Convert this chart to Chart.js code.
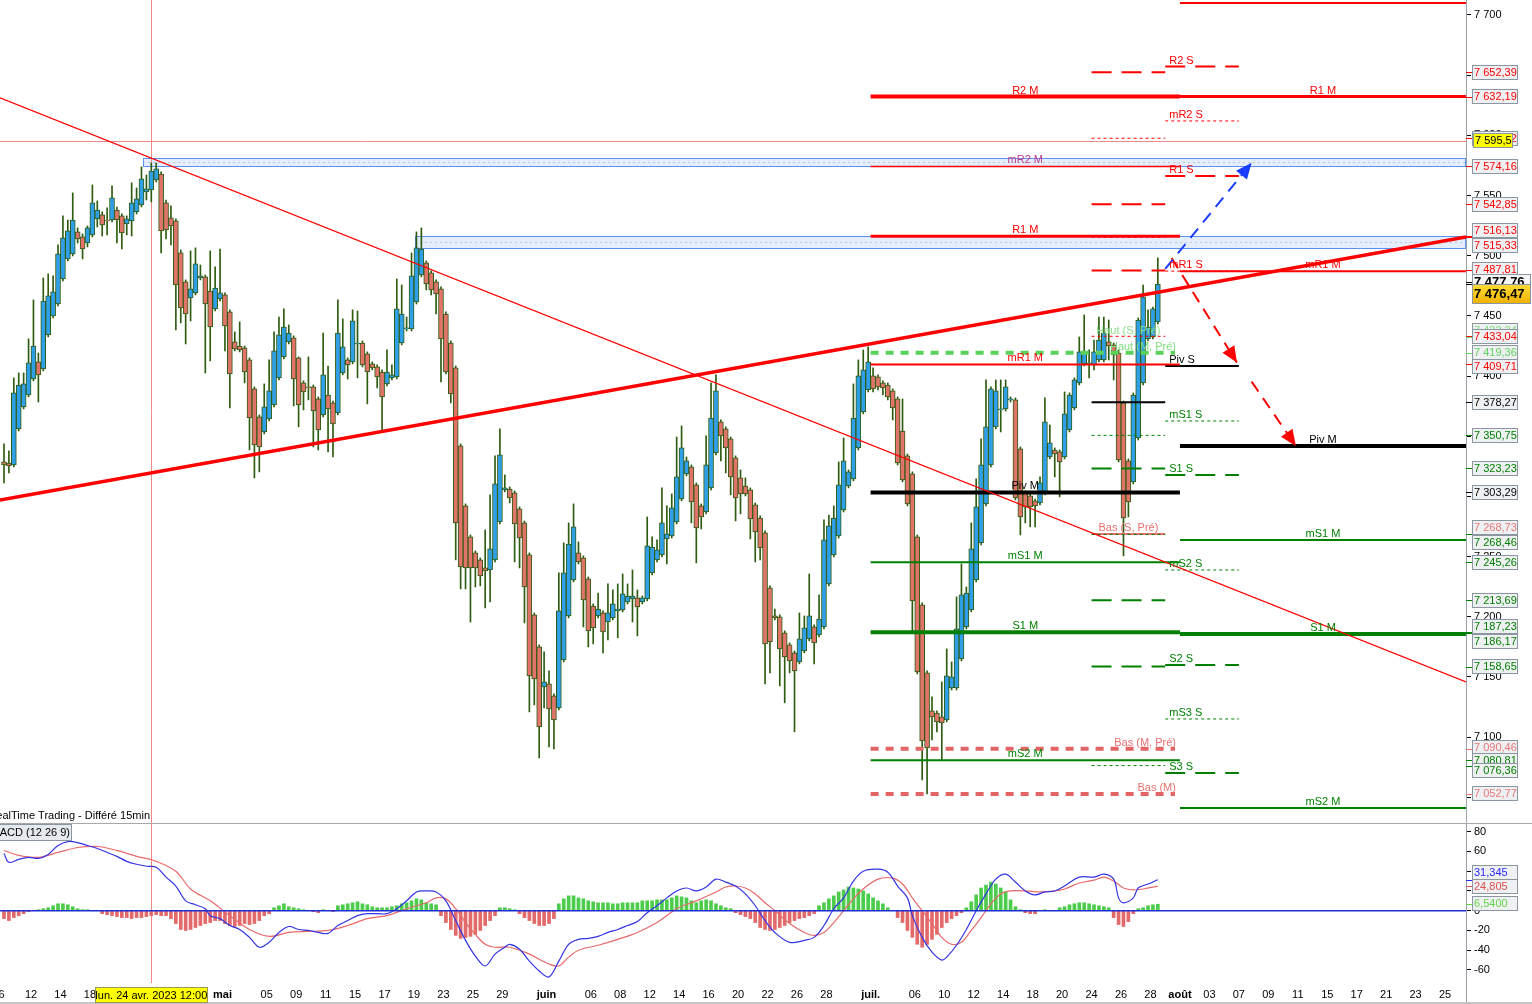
<!DOCTYPE html>
<html><head><meta charset="utf-8">
<script src="https://cdn.jsdelivr.net/npm/chart.js@4.4.0/dist/chart.umd.min.js"></script>
<style>
html,body{margin:0;padding:0;background:#fff;overflow:hidden}
#wrap{position:relative;width:1532px;height:1004px;background:#fff}
#cA{position:absolute;left:0;top:0;width:1532px;height:823px}
#cB{position:absolute;left:0;top:823px;width:1532px;height:181px}
</style></head><body>
<div id="wrap"><canvas id="cA" width="1532" height="823"></canvas><canvas id="cB" width="1532" height="181"></canvas></div>
<script>
// ---------------- DATA ----------------
const candleOpen = [7328.7,7327.8,7326.2,7356.1,7374.4,7384.3,7397.6,7411.8,7405.9,7434.2,
7450.0,7459.9,7480.7,7497.3,7501.5,7519.8,7515.6,7510.6,7517.3,7530.6,
7533.9,7529.7,7529.7,7538.0,7533.1,7526.4,7528.9,7536.4,7542.2,7553.0,
7554.6,7563.0,7567.9,7543.9,7531.4,7528.9,7502.3,7478.2,7464.9,7469.1,
7481.5,7482.4,7470.7,7455.8,7464.1,7467.4,7453.3,7428.4,7425.0,7423.4,
7413.4,7389.3,7366.1,7353.6,7364.4,7376.0,7398.5,7415.9,7428.4,7431.7,
7415.1,7394.3,7391.0,7391.0,7381.0,7367.7,7384.3,7377.7,7369.4,7402.6,
7413.4,7411.8,7426.7,7427.5,7418.4,7410.1,7407.6,7403.4,7393.5,7398.5,
7399.3,7427.5,7439.2,7439.2,7461.6,7484.0,7494.0,7485.7,7478.2,7472.4,
7451.6,7427.5,7406.8,7342.0,7292.1,7266.4,7253.1,7247.3,7240.6,7238.9,
7247.3,7278.8,7305.4,7306.2,7302.9,7289.6,7278.0,7251.4,7201.6,7175.0,
7141.7,7144.2,7134.3,7124.3,7164.2,7200.7,7230.6,7253.1,7248.9,7231.5,
7209.0,7200.7,7203.2,7195.7,7199.1,7204.9,7205.7,7212.4,7214.9,7215.7,
7212.4,7214.9,7236.5,7247.3,7251.4,7264.7,7267.2,7278.8,7297.9,7318.7,
7324.5,7309.6,7292.1,7287.1,7307.1,7336.2,7361.9,7356.1,7347.8,7332.0,
7315.4,7308.7,7305.4,7293.0,7282.1,7269.7,7224.0,7200.7,7199.9,7186.6,
7176.6,7170.0,7162.5,7171.6,7181.6,7191.6,7184.9,7191.6,7227.3,7251.4,
7267.2,7288.8,7308.7,7314.6,7340.3,7370.2,7388.5,7400.1,7399.3,7394.3,
7392.6,7387.7,7381.0,7354.4,7333.7,7318.7,7266.4,7209.9,7153.4,7121.8,
7120.1,7116.8,7114.3,7140.9,7140.9,7165.0,7191.6,7205.7,7230.6,7261.4,
7293.8,7326.2,7357.8,7371.9,7372.7,7380.2,7380.2,7339.5,7302.9,7300.4,
7296.3,7294.6,7302.9,7332.8,7338.6,7337.0,7332.8,7355.3,7373.5,7394.3,
7410.1,7410.1,7409.3,7413.4,7413.4,7428.4,7425.9,7419.2,7377.7,7329.5,
7312.1,7348.6,7394.3,7430.9,7432.5,7445.0];
const candleHigh = [7343.6,7337.8,7398.5,7402.6,7402.6,7430.9,7463.3,7419.2,7481.5,7484.9,
7483.2,7509.0,7533.1,7529.7,7552.2,7523.1,7518.1,7524.7,7558.8,7545.5,
7536.4,7539.7,7558.0,7540.5,7534.7,7533.1,7560.5,7556.3,7573.8,7567.1,
7577.1,7577.1,7569.6,7546.3,7541.4,7530.6,7504.8,7479.9,7504.0,7506.5,
7492.3,7484.0,7504.0,7490.7,7505.6,7469.1,7455.0,7436.7,7445.0,7425.0,
7415.1,7391.0,7367.7,7393.5,7413.4,7436.7,7449.1,7455.8,7442.5,7433.4,
7415.9,7396.0,7415.9,7392.6,7382.7,7435.8,7408.4,7379.3,7463.3,7447.5,
7415.1,7455.0,7454.1,7429.2,7420.1,7411.8,7409.3,7405.1,7421.7,7409.3,
7480.7,7475.7,7449.1,7502.3,7519.8,7523.1,7495.7,7487.4,7479.9,7474.1,
7453.3,7429.2,7408.4,7343.6,7293.8,7268.0,7254.7,7248.9,7272.2,7301.3,
7333.7,7356.1,7317.9,7307.9,7304.6,7291.3,7279.6,7253.1,7203.2,7176.6,
7170.8,7155.0,7135.9,7236.5,7261.4,7278.0,7293.8,7262.2,7250.6,7233.1,
7210.7,7219.8,7204.9,7227.3,7222.3,7227.3,7235.6,7227.3,7238.9,7222.3,
7217.3,7283.0,7266.4,7263.9,7307.1,7292.1,7302.1,7349.4,7358.6,7332.8,
7326.2,7311.2,7293.8,7350.3,7394.3,7401.0,7363.6,7357.8,7349.4,7333.7,
7322.0,7315.4,7307.1,7294.6,7283.8,7271.4,7225.7,7206.5,7201.6,7188.3,
7178.3,7171.6,7203.2,7200.7,7235.6,7193.3,7218.2,7280.5,7284.6,7292.1,
7328.7,7348.6,7322.0,7393.5,7413.4,7421.7,7424.2,7406.8,7401.0,7396.0,
7394.3,7389.3,7382.7,7381.0,7335.3,7320.4,7268.0,7211.5,7155.0,7133.4,
7121.8,7145.9,7173.3,7162.5,7216.5,7243.9,7224.8,7278.0,7314.6,7347.8,
7396.8,7391.0,7396.8,7396.8,7396.8,7382.7,7381.9,7341.1,7304.6,7302.1,
7297.9,7316.2,7381.9,7359.4,7340.3,7338.6,7386.8,7386.0,7398.5,7432.5,
7450.8,7421.7,7430.0,7449.1,7449.1,7446.6,7427.5,7421.7,7379.3,7331.2,
7386.0,7448.3,7475.7,7455.0,7457.4,7498.2];
const candleLow = [7311.2,7319.5,7324.5,7354.4,7372.7,7382.7,7396.0,7378.5,7404.3,7432.5,
7448.3,7458.3,7479.1,7495.7,7499.8,7510.6,7497.3,7507.3,7515.6,7523.9,
7516.4,7517.3,7528.1,7510.6,7505.6,7517.3,7516.4,7534.7,7540.5,7546.3,
7544.7,7561.3,7502.3,7513.9,7509.0,7438.3,7444.2,7426.7,7445.8,7467.4,
7479.9,7402.6,7412.6,7454.1,7462.4,7420.9,7373.5,7420.9,7420.1,7394.3,
7338.6,7315.4,7320.4,7351.9,7362.7,7374.4,7396.8,7414.2,7426.7,7375.2,
7357.8,7371.9,7380.2,7341.1,7338.6,7366.1,7337.0,7332.8,7367.7,7401.0,
7397.6,7410.1,7398.5,7407.6,7376.9,7405.1,7390.2,7354.4,7391.8,7396.8,
7397.6,7425.9,7437.5,7437.5,7459.9,7482.4,7471.6,7467.4,7451.6,7395.1,
7401.8,7377.7,7247.3,7223.2,7223.2,7195.7,7224.8,7225.7,7207.4,7212.4,
7245.6,7277.2,7303.8,7294.6,7245.6,7240.6,7194.9,7121.0,7126.8,7082.8,
7124.3,7091.9,7090.2,7122.6,7162.5,7199.1,7229.0,7243.9,7191.6,7175.0,
7177.5,7199.1,7170.0,7180.8,7197.4,7182.5,7204.1,7210.7,7195.7,7184.1,
7210.7,7213.2,7234.8,7245.6,7249.7,7243.9,7265.5,7277.2,7296.3,7317.0,
7278.0,7244.8,7273.0,7285.5,7305.4,7334.5,7329.5,7319.5,7301.3,7279.6,
7285.5,7300.4,7264.7,7245.6,7247.3,7144.2,7153.4,7197.4,7142.6,7128.5,
7153.4,7104.4,7160.9,7170.0,7180.0,7160.9,7183.3,7189.9,7225.7,7249.7,
7265.5,7287.1,7307.1,7312.9,7338.6,7368.6,7386.8,7386.8,7388.5,7384.3,
7380.2,7363.6,7326.2,7312.1,7292.1,7186.6,7152.5,7064.5,7052.8,7097.7,
7104.4,7081.1,7112.7,7139.2,7139.2,7163.3,7189.9,7204.1,7229.0,7259.7,
7292.1,7324.5,7356.1,7353.6,7371.0,7378.5,7297.1,7268.0,7278.0,7274.7,
7274.7,7292.9,7301.3,7331.2,7316.2,7299.6,7331.2,7353.6,7371.9,7392.6,
7408.4,7398.5,7405.1,7411.8,7411.8,7413.4,7396.8,7328.7,7250.6,7283.0,
7310.4,7346.9,7392.6,7429.2,7430.9,7443.3];
const candleClose = [7326.2,7325.4,7386.0,7392.6,7393.5,7410.9,7425.0,7401.0,7462.4,7466.6,
7469.9,7501.5,7514.8,7520.6,7529.7,7513.9,7505.6,7523.1,7543.9,7538.0,
7525.6,7528.9,7548.0,7529.7,7518.9,7530.6,7543.9,7547.2,7563.8,7555.5,
7570.4,7572.1,7520.6,7521.4,7524.7,7475.7,7456.6,7451.6,7472.4,7493.2,
7483.2,7459.9,7440.8,7473.2,7469.1,7441.7,7401.8,7422.6,7421.7,7403.4,
7365.2,7342.8,7341.1,7374.4,7387.7,7420.9,7434.2,7440.8,7435.8,7397.6,
7376.0,7386.8,7390.2,7371.0,7355.3,7401.0,7372.7,7360.2,7435.8,7424.2,
7409.3,7445.8,7427.5,7409.3,7403.4,7406.8,7399.3,7382.7,7403.4,7401.0,
7455.8,7451.6,7440.0,7483.2,7506.5,7505.6,7476.5,7471.6,7468.2,7430.9,
7403.4,7385.2,7278.0,7241.4,7240.6,7240.6,7240.6,7234.0,7238.1,7256.4,
7310.4,7334.5,7307.1,7298.8,7277.2,7265.5,7224.8,7150.9,7148.4,7108.5,
7145.9,7123.5,7114.3,7204.9,7236.5,7260.5,7274.7,7245.6,7214.0,7188.3,
7190.8,7206.5,7187.4,7203.2,7210.7,7206.5,7219.0,7217.3,7217.3,7208.2,
7215.7,7258.9,7258.0,7255.6,7278.0,7268.9,7290.5,7316.2,7340.3,7329.5,
7295.4,7273.8,7283.0,7326.2,7365.2,7387.7,7350.3,7340.3,7316.2,7298.8,
7302.1,7302.1,7281.3,7270.5,7257.2,7177.5,7179.1,7199.1,7173.3,7166.7,
7163.3,7155.0,7181.6,7190.8,7200.7,7178.3,7198.2,7263.9,7275.5,7282.1,
7309.6,7329.5,7320.4,7365.2,7400.1,7405.1,7411.8,7389.3,7391.0,7390.2,
7382.7,7373.5,7327.8,7313.7,7293.8,7213.2,7154.2,7096.9,7091.1,7116.8,
7112.7,7111.8,7150.9,7150.1,7189.9,7218.2,7219.8,7256.4,7291.3,7326.2,
7357.8,7389.3,7387.7,7372.7,7391.0,7381.0,7298.8,7283.0,7291.3,7291.3,
7292.1,7311.2,7361.9,7344.5,7335.3,7328.7,7368.6,7384.3,7396.8,7420.1,
7420.1,7410.9,7420.1,7430.0,7435.8,7425.0,7417.6,7330.3,7282.1,7295.4,
7384.3,7446.6,7465.8,7440.8,7455.8,7476.47];

// MACD (12 26 9)
const macdIdx = [0,1,3,5,7,9,11,13,15,17,19,21,23,25,27,29,31,33,35,37,39,41,42,44,46,48,50,52,54,56,58,60,62,64,66,68,70,72,74,76,78,80,82,84,86,88,90,92,94,96,98,100,102,103,105,107,109,111,113,115,117,119,121,123,125,127,129,131,133,135,137,139,141,143,145,147,149,151,153,155,157,160,163,165,167,169,171,173,175,178,180,182,184,185,187,189,191,192,194,196,198,200,202,204,206,208,210,212,214,216,219,222,224,226,227,228,230,231,233,235];
const macdVal = [58,49,52,54,53,57,66,70,69,66,63,59,55,50,47,45,44,34,25,10,6,2,-5,-8,-15,-19,-27,-37,-32,-22,-16,-19,-20,-22,-23,-15,-10,-5,-3,-3,-3,2,10,19,20,19,10,-10,-30,-46,-56,-44,-37,-34,-39,-51,-61,-67,-51,-34,-29,-28,-26,-22,-19,-15,-11,-2,5,13,20,23,20,24,32,29,25,17,5,-10,-22,-32,-30,-27,-15,2,13,30,40,42,39,25,13,-5,-27,-42,-50,-47,-35,-19,0,17,32,37,29,20,16,19,20,25,34,34,37,32,13,8,13,23,27,31.345];
const sigIdx = [0,3,7,11,15,19,23,27,31,35,38,42,46,50,54,58,62,66,70,74,78,82,86,88,90,92,94,96,98,100,103,107,111,113,115,117,121,125,129,133,137,141,145,147,149,151,153,155,157,160,163,165,167,169,171,173,175,178,181,183,185,187,189,191,193,195,197,199,201,203,205,208,211,214,216,219,222,224,226,228,230,232,235];
const sigVal = [61,56,54,59,64,65,61,55,50,40,22,10,-5,-19,-26,-22,-21,-20,-15,-8,-5,2,8,13,12,2,-12,-24,-34,-37,-37,-44,-54,-56,-47,-40,-35,-29,-22,-12,2,10,19,24,25,23,17,8,0,-13,-22,-25,-22,-12,0,12,22,32,33,27,13,0,-13,-27,-34,-32,-20,-7,7,17,20,20,19,20,22,28,31,34,30,23,21,22,24.805];
const histVal = [-8,-10,-7,-5,-3, -1,0,1, 2,3,5,7,7,6,4,2, 1,1,0,0,
-3,-4,-5,-6,-7,-7,-8,-7,-7,-6,-5, -4,-5,
-5,-8,-13,-19,-20,-19,-17,-15,-13,-12,
-10,-10,-13,-15,-16,-15,-13,-14,-13,-10,-5,-3,
3,5,7,4,3,2,1,0, -1,-2,1,0,-1,
5,6,7,8,9,7,6,4,3,3,3,4,5,
7,8,10,12,11,8,7,6,
-5,-12,-19,-25,-28,-27,-26,-24,-20,-15,-10,-5,
3,3,2,1,
-3,-7,-10,-13,-15,-15,-13,-8,
7,12,15,15,13,12,10,9,8,8,8,7,7,8,8,8,8,10,10,10,11,11,11,13,15,14,13,10,8,10,11,10,7,5,3,
2, -2,-4,-6,-8,
-12,-17,-19,-20,-19,-17,-15,-12,-10,-8,-7,-5,-3,
5,8,12,15,19,21,24,23,22,20,17,13,10,7,3,
0,
-7,-12,-20,-27,-34,-37,-34,-29,-24,-17,-12,-8,-5,-2,
3,9,16,23,26,29,27,23,19,11,4,
1, -2,-3,-3, 0,1,0,0,
3,4,6,7,8,8,7,6,5,4,3,
-7,-14,-16,-11,-3,
2,3,5,6,6.54];

// x-axis: trading-day index of each tick label
const tickDay  = [0,2,4,6,15,18,20,22,24,26,28,30,32,34,37,40,42,44,46,48,50,52,54,56,59,62,64,66,68,70,72,74,76,78,80,82,84,86,88,90,92,94,96,98];
const tickText = ["6","12","14","18","mai","05","09","11","15","17","19","23","25","29","juin","06","08","12","14","16","20","22","26","28","juil.","06","10","12","14","18","20","24","26","28","août","03","07","09","11","15","17","21","23","25"];
const priceTicks = [7050,7100,7150,7200,7250,7300,7350,7400,7450,7500,7550,7600,7650,7700];
const macdTicks = [80,60,40,20,0,-20,-40,-60];

// pivot periods (trading days: start, end)
const julyDays = [59, 80];
const augDays  = [80, 103];
const weekDays = [74, 79];
const nextDays = [79, 84];

const julyNames  = ["R2 M","mR2 M","R1 M","mR1 M","Piv M","mS1 M","S1 M","mS2 M"];
const julyValues = [7632.19,7574.16,7516.13,7409.71,7303.29,7245.26,7187.23,7080.81];
const julyExtraNames  = ["Haut (M, Pré)","Bas (M, Pré)","Bas (M)"];
const julyExtraValues = [7419.36,7090.46,7052.77];
const augNames  = ["mR2 M","R1 M","mR1 M","Piv M","mS1 M","S1 M","mS2 M"];
const augValues = [7710.0,7632.19,7487.1,7342.0,7263.9,7185.8,7041.2];
const weekNames  = ["R3 S","mR3 S","R2 S","mR2 S","R1 S","mR1 S","Piv S","mS1 S","S1 S","mS2 S","S2 S","mS3 S","S3 S","mS4 S"];
const weekValues = [7652.39,7597.62,7542.85,7515.33,7487.81,7433.04,7378.27,7350.75,7323.23,7268.46,7213.69,7186.17,7158.65,7076.36];
const weekExtraNames  = ["Haut (S, Pré)","Bas (S, Pré)"];
const weekExtraValues = [7432.34,7268.73];
const nextNames  = ["R2 S","mR2 S","R1 S","mR1 S","Piv S","mS1 S","S1 S","mS2 S","S2 S","mS3 S","S3 S"];
const nextValues = [7657.2,7612.0,7566.3,7487.2,7408.4,7362.7,7317.9,7238.9,7160.0,7115.1,7070.3];

// drawings (candle index / price)
const trendStartIdx = [-0.815, -0.815];
const trendStartPrice = [7631.1, 7297.1];
const trendEndIdx = [297.76, 297.76];
const trendEndPrice = [7145.9, 7515.6];
const bandStartIdx = [28.3, 83.7];
const bandLow = [7574.16, 7506.3];
const bandHigh = [7581.0, 7516.13];
const arrowStartIdx = [236.5, 237.8, 254.1];
const arrowStartPrice = [7489.0, 7498.1, 7395.4];
const arrowEndIdx = [254.1, 251.1, 263.1];
const arrowEndPrice = [7577.3, 7411.2, 7342.0];
const crossIdx = 30;
const crossPrice = 7595.5;
const crossDateText = "lun. 24 avr. 2023 12:00";

const axisBoxValues = [7652.39,7632.19,7597.62,7574.16,7542.85,7516.13,7515.33,7487.81,7432.34,7433.04,7419.36,7409.71,7378.27,7350.75,7323.23,7303.29,7268.73,7268.46,7245.26,7213.69,7187.23,7186.17,7158.65,7090.46,7080.81,7076.36,7052.77];
const lastBid = 7477.76;
const lastPrice = 7476.47;
const macdBoxValues = [31.345, 24.805, 6.54];

// ---------------- STYLE / LAYOUT ----------------
const FONT = "'Liberation Sans', Arial, sans-serif";
Chart.defaults.font.family = FONT;
Chart.defaults.font.size = 11;
Chart.defaults.color = '#000';
const XMIN = -0.815, XMAX = 297.76;
const Y_MIN = 7028.67, Y_MAX = 7712.46;
const M_MIN = -73.2, M_MAX = 88.8;
const RED = '#ff0000', GREEN = '#008000', BLACK = '#000000';
const CROSS = '#f08888';
const axisBoxColors = ['#ff0000','#ff0000','#ff0000','#ff0000','#ff0000','#ff0000','#ff0000','#ff0000','#7fdc7f','#ff0000','#5fd35f','#ff0000','#000000','#008000','#008000','#000000','#e87878','#008000','#008000','#008000','#008000','#008000','#008000','#e87878','#008000','#008000','#e87878'];
const axisBoxShift = [0,0,0,0,0,-6,8,-1,-7,0,0,2,0,0,0,0,-7,8,0,0,-6,8,0,-1,0,5,0];
const macdBoxColors = ['#2b2bff','#e05050','#66d648'];
const macdBoxDec = [3,3,4];
const macdBoxShift = [-7,0,-1];
const arrowColors = ['#1a3cff', RED, RED];

const dayX = d => 3 * d - 0.5;
function frNum(v, dec) {
  let s = Number(v).toFixed(dec);
  let neg = s.startsWith('-'); if (neg) s = s.slice(1);
  let [ip, fp] = s.split('.');
  ip = ip.replace(/\B(?=(\d{3})+(?!\d))/g, ' ');
  return (neg ? '-' : '') + ip + (fp ? ',' + fp : '');
}
function colorFor(n) { if (/^m?R/.test(n)) return RED; if (/^Piv/.test(n)) return BLACK; return GREEN; }

// ---------------- CHART A DATASETS ----------------
const idx = candleClose.map((_, i) => i);
const dsA = [];
const levelLabels = [];
function seg(x0, x1, y0, y1, color, width, dash, order) {
  dsA.push({ type: 'line', data: [{x: x0, y: y0}, {x: x1, y: y1}], borderColor: color, borderWidth: width,
    borderDash: dash || [], borderCapStyle: 'butt', pointRadius: 0, fill: false, order: order == null ? 5 : order });
}
dsA.push({ type: 'bar', data: idx.map(i => ({x: i, y: [candleLow[i], candleHigh[i]]})),
  backgroundColor: '#2d5c10', borderWidth: 0, barThickness: 1, grouped: false, order: 30 });
dsA.push({ type: 'bar', data: idx.map(i => ({x: i, y: [candleOpen[i], candleClose[i]]})),
  backgroundColor: idx.map(i => candleClose[i] >= candleOpen[i] ? '#2f9fe8' : '#e0736a'),
  borderColor: '#2d5c10', borderWidth: 1, borderSkipped: false, barThickness: 5, grouped: false, order: 29 });

// July monthly
julyNames.forEach((n, k) => {
  const w = n === 'mR2 M' ? 1.5 : n.startsWith('m') ? 2 : n === 'R1 M' ? 3 : 4;
  seg(dayX(julyDays[0]), dayX(julyDays[1]), julyValues[k], julyValues[k], colorFor(n), w, []);
  levelLabels.push({t: n, x: (dayX(julyDays[0]) + dayX(julyDays[1])) / 2, p: julyValues[k], c: n === 'mR2 M' ? '#c03c8c' : colorFor(n), a: 'center'});
});
const extraCols = [['#5ad25a', '#7edc7e'], ['#e26464', '#e87070'], ['#e26464', '#e87070']];
julyExtraNames.forEach((n, k) => {
  seg(dayX(julyDays[0]), dayX(julyDays[1]) - 1, julyExtraValues[k], julyExtraValues[k], extraCols[k][0], 4, [8, 7]);
  levelLabels.push({t: n, x: dayX(julyDays[1]), dx: -4, p: julyExtraValues[k], c: extraCols[k][1], a: 'right'});
});
// August monthly
augNames.forEach((n, k) => {
  const w = n.startsWith('m') ? 2 : n === 'R1 M' ? 3 : 4;
  seg(dayX(augDays[0]), dayX(augDays[1]), augValues[k], augValues[k], colorFor(n), w, []);
  levelLabels.push({t: n, x: (dayX(augDays[0]) + XMAX) / 2, p: augValues[k], c: colorFor(n), a: 'center'});
});
// current week
weekNames.forEach((n, k) => {
  const piv = n.startsWith('Piv'), mid = n.startsWith('m');
  seg(dayX(weekDays[0]), dayX(weekDays[1]), weekValues[k], weekValues[k], colorFor(n), piv ? 2 : mid ? 1 : 2, piv ? [] : mid ? [3, 3] : [20, 10]);
});
seg(dayX(weekDays[0]), dayX(weekDays[1]), weekExtraValues[1], weekExtraValues[1], '#e87070', 2, []);
levelLabels.push({t: weekExtraNames[0], x: (dayX(weekDays[0]) + dayX(weekDays[1])) / 2, p: weekExtraValues[0], c: '#8ee08e', a: 'center'});
levelLabels.push({t: weekExtraNames[1], x: (dayX(weekDays[0]) + dayX(weekDays[1])) / 2, p: weekExtraValues[1], c: '#e87070', a: 'center'});
// next week
nextNames.forEach((n, k) => {
  const piv = n.startsWith('Piv'), mid = n.startsWith('m');
  seg(dayX(nextDays[0]), dayX(nextDays[1]), nextValues[k], nextValues[k], colorFor(n), piv ? 2 : mid ? 1 : 2, piv ? [] : mid ? [3, 3] : [20, 10]);
  levelLabels.push({t: n, x: dayX(nextDays[0]), dx: 4, p: nextValues[k], c: colorFor(n), a: 'left'});
});
// trendlines
seg(trendStartIdx[0], trendEndIdx[0], trendStartPrice[0], trendEndPrice[0], RED, 1.2, [], 2);
seg(trendStartIdx[1], trendEndIdx[1], trendStartPrice[1], trendEndPrice[1], RED, 3.5, [], 2);
// arrows
arrowStartIdx.forEach((_, k) => seg(arrowStartIdx[k], arrowEndIdx[k], arrowStartPrice[k], arrowEndPrice[k], arrowColors[k], 2, [12, 8], 1));

function drawBox(ctx, xL, yc, w, h, txt, col, bg, bold, fs) {
  const top = Math.round(yc - h / 2);
  ctx.fillStyle = bg; ctx.fillRect(xL, top, w, h);
  ctx.strokeStyle = '#8c96a0'; ctx.lineWidth = 1; ctx.strokeRect(xL + 0.5, top + 0.5, w - 1, h - 1);
  ctx.fillStyle = col; ctx.font = (bold ? 'bold ' : '') + fs + 'px ' + FONT;
  ctx.textAlign = 'left'; ctx.textBaseline = 'middle';
  ctx.fillText(txt, xL + 2, top + h / 2 + 0.5);
}

const pluginA = {
  id: 'decorA',
  beforeDatasetsDraw(chart) {
    const {ctx, chartArea: a, scales: {x, y}} = chart;
    ctx.save();
    bandStartIdx.forEach((_, k) => {
      const x0 = Math.round(x.getPixelForValue(bandStartIdx[k]));
      const yt = Math.round(y.getPixelForValue(bandHigh[k])), yb = Math.round(y.getPixelForValue(bandLow[k]));
      ctx.fillStyle = 'rgba(220,232,252,0.75)'; ctx.fillRect(x0, yt, a.right - x0, yb - yt);
      ctx.strokeStyle = '#5b8ff0'; ctx.lineWidth = 1;
      ctx.strokeRect(x0 + 0.5, yt + 0.5, a.right - x0 - 1, yb - yt);
      ctx.setLineDash([2, 3]); ctx.strokeStyle = 'rgba(150,170,200,0.6)';
      ctx.beginPath(); ctx.moveTo(x0, (yt + yb) / 2 + 0.5); ctx.lineTo(a.right, (yt + yb) / 2 + 0.5); ctx.stroke();
      ctx.setLineDash([]);
    });
    ctx.strokeStyle = CROSS; ctx.lineWidth = 1;
    const cx = Math.round(x.getPixelForValue(crossIdx)) + 0.5;
    ctx.beginPath(); ctx.moveTo(cx, a.top); ctx.lineTo(cx, a.bottom); ctx.stroke();
    const cy = Math.round(y.getPixelForValue(crossPrice)) + 0.5;
    ctx.beginPath(); ctx.moveTo(a.left, cy); ctx.lineTo(a.right, cy); ctx.stroke();
    ctx.restore();
  },
  afterDatasetsDraw(chart) {
    const {ctx, chartArea: a, scales: {x, y}} = chart;
    ctx.save();
    ctx.beginPath(); ctx.rect(a.left, a.top, a.right - a.left, a.bottom - a.top); ctx.clip();
    ctx.font = '11px ' + FONT; ctx.textBaseline = 'alphabetic';
    levelLabels.forEach(L => {
      ctx.fillStyle = L.c; ctx.textAlign = L.a;
      ctx.fillText(L.t, x.getPixelForValue(L.x) + (L.dx || 0), y.getPixelForValue(L.p) - 3);
    });
    arrowStartIdx.forEach((_, k) => {
      const x0 = x.getPixelForValue(arrowStartIdx[k]), y0 = y.getPixelForValue(arrowStartPrice[k]);
      const x1 = x.getPixelForValue(arrowEndIdx[k]), y1 = y.getPixelForValue(arrowEndPrice[k]);
      const ang = Math.atan2(y1 - y0, x1 - x0), Lh = 16, W = 7;
      ctx.fillStyle = arrowColors[k];
      ctx.beginPath(); ctx.moveTo(x1, y1);
      ctx.lineTo(x1 - Lh * Math.cos(ang) + W * Math.sin(ang), y1 - Lh * Math.sin(ang) - W * Math.cos(ang));
      ctx.lineTo(x1 - Lh * Math.cos(ang) - W * Math.sin(ang), y1 - Lh * Math.sin(ang) + W * Math.cos(ang));
      ctx.closePath(); ctx.fill();
    });
    ctx.restore();
  },
  afterDraw(chart) {
    const {ctx, scales: {y}} = chart;
    ctx.save();
    ctx.font = '11px ' + FONT; ctx.fillStyle = '#000'; ctx.textAlign = 'right'; ctx.textBaseline = 'middle';
    ctx.fillText('RealTime Trading - Différé 15min', 150, 816);
    axisBoxValues.forEach((v, k) => {
      const ty = y.getPixelForValue(v);
      ctx.fillStyle = axisBoxColors[k]; ctx.fillRect(1466, Math.round(ty), 6, 1);
    });
    axisBoxValues.forEach((v, k) => {
      const ty = y.getPixelForValue(v);
      drawBox(ctx, 1472, ty + axisBoxShift[k], 46, 15, frNum(v, 2), axisBoxColors[k], '#eef0f2', false, 11);
    });
    const cy = y.getPixelForValue(crossPrice);
    drawBox(ctx, 1473, cy, 40, 15, frNum(crossPrice, 1), '#000', '#ffff00', false, 11);
    const by = y.getPixelForValue(lastBid);
    ctx.fillStyle = '#000'; ctx.fillRect(1466, Math.round(by), 6, 1);
    drawBox(ctx, 1472, by, 59, 16, frNum(lastBid, 2), '#000', '#f6f6f6', true, 13);
    const py = y.getPixelForValue(lastPrice);
    ctx.fillStyle = '#000'; ctx.fillRect(1466, Math.round(py), 6, 1);
    const top = Math.round(py);
    const g = ctx.createLinearGradient(0, top, 0, top + 20);
    g.addColorStop(0, '#ffdc3a'); g.addColorStop(1, '#f0b000');
    drawBox(ctx, 1472, py + 10, 59, 20, frNum(lastPrice, 2), '#000', g, true, 13);
    ctx.restore();
  }
};

new Chart(document.getElementById('cA'), {
  type: 'bar',
  data: { datasets: dsA },
  options: {
    responsive: false, animation: false, devicePixelRatio: 1, events: [],
    layout: { padding: 0 },
    plugins: { legend: { display: false }, tooltip: { enabled: false } },
    scales: {
      x: { type: 'linear', min: XMIN, max: XMAX, display: false, offset: false, grid: { offset: false } },
      y: { type: 'linear', position: 'right', min: Y_MIN, max: Y_MAX,
        afterBuildTicks: s => { s.ticks = priceTicks.map(v => ({ value: v })); },
        afterFit: s => { s.width = 66; s.paddingTop = 0; s.paddingBottom = 0; },
        ticks: { callback: v => frNum(v, 0), color: '#000', padding: 3, font: { size: 11 } },
        grid: { drawOnChartArea: false, drawTicks: true, tickLength: 5, color: '#000' },
        border: { display: true, color: '#9aa3ad' } }
    }
  },
  plugins: [pluginA]
});

// ---------------- CHART B (MACD) ----------------
const dsB = [
  { type: 'line', data: [{x: XMIN, y: 0}, {x: XMAX, y: 0}], borderColor: '#1f2fd6', borderWidth: 1.6, pointRadius: 0, order: 0 },
  { type: 'line', data: macdIdx.map((xv, k) => ({x: xv, y: macdVal[k]})), borderColor: '#3434e6', borderWidth: 1.2, pointRadius: 0, tension: 0.35, order: 1 },
  { type: 'line', data: sigIdx.map((xv, k) => ({x: xv, y: sigVal[k]})), borderColor: '#e86a6a', borderWidth: 1.2, pointRadius: 0, tension: 0.35, order: 2 },
  { type: 'bar', data: histVal.map((v, i) => ({x: i, y: v})), backgroundColor: histVal.map(v => v >= 0 ? '#4ccc4c' : '#e36a6a'),
    borderWidth: 0, barThickness: 3, grouped: false, order: 3 }
];
const pluginB = {
  id: 'decorB',
  beforeDatasetsDraw(chart) {
    const {ctx, chartArea: a, scales: {x}} = chart;
    ctx.save();
    ctx.strokeStyle = CROSS; ctx.lineWidth = 1;
    const cx = Math.round(x.getPixelForValue(crossIdx)) + 0.5;
    ctx.beginPath(); ctx.moveTo(cx, a.top); ctx.lineTo(cx, a.bottom); ctx.stroke();
    ctx.restore();
  },
  afterDraw(chart) {
    const {ctx, chartArea: a, scales: {x, y}} = chart;
    ctx.save();
    ctx.fillStyle = '#a8a8a8'; ctx.fillRect(0, 0, 1532, 1);
    ctx.fillStyle = '#9aa3ad'; ctx.fillRect(1466, a.bottom, 1, 181 - a.bottom);
    ctx.fillStyle = '#c4c4c4'; ctx.fillRect(0, 179, 1532, 2);
    // MACD title box
    ctx.fillStyle = '#e6eaee'; ctx.fillRect(-5, 1, 77, 17);
    ctx.strokeStyle = '#8c96a0'; ctx.strokeRect(-4.5, 1.5, 76, 16);
    ctx.font = '11px ' + FONT; ctx.fillStyle = '#000'; ctx.textAlign = 'right'; ctx.textBaseline = 'middle';
    ctx.fillText('MACD (12 26 9)', 70, 10);
    // right value boxes
    macdBoxValues.forEach((v, k) => {
      const ty = y.getPixelForValue(v);
      ctx.fillStyle = macdBoxColors[k]; ctx.fillRect(1466, Math.round(ty), 6, 1);
      drawBox(ctx, 1472, ty + macdBoxShift[k], 46, 15, frNum(v, macdBoxDec[k]), macdBoxColors[k], '#eef0f2', false, 11);
    });
    // crosshair date box
    const cx = x.getPixelForValue(crossIdx);
    const w = 113;
    ctx.fillStyle = '#ffff00'; ctx.fillRect(Math.round(cx - w / 2), 164, w, 16);
    ctx.strokeStyle = '#9a9a50'; ctx.strokeRect(Math.round(cx - w / 2) + 0.5, 164.5, w - 1, 15);
    ctx.font = '11px ' + FONT;
    ctx.fillStyle = '#000'; ctx.textAlign = 'center'; ctx.textBaseline = 'middle';
    ctx.fillText(crossDateText, cx, 172.5);
    ctx.restore();
  }
};
new Chart(document.getElementById('cB'), {
  type: 'bar',
  data: { datasets: dsB },
  options: {
    responsive: false, animation: false, devicePixelRatio: 1, events: [],
    layout: { padding: 0 },
    plugins: { legend: { display: false }, tooltip: { enabled: false } },
    scales: {
      x: { type: 'linear', min: XMIN, max: XMAX, offset: false, position: 'bottom',
        afterBuildTicks: s => { s.ticks = tickDay.map(d => ({ value: dayX(d) })); },
        afterFit: s => { s.height = 21; s.paddingLeft = 0; s.paddingRight = 0; },
        ticks: { autoSkip: false, maxRotation: 0, minRotation: 0, padding: 5, color: '#000',
          callback: (v, i) => tickText[i],
          font: c => ({ size: 11, weight: (c.tick && /^[a-zé]/.test(c.tick.label)) ? 'bold' : 'normal' }) },
        grid: { display: false, drawTicks: false, offset: false },
        border: { display: false } },
      y: { type: 'linear', position: 'right', min: M_MIN, max: M_MAX,
        afterBuildTicks: s => { s.ticks = macdTicks.map(v => ({ value: v })); },
        afterFit: s => { s.width = 66; s.paddingTop = 0; s.paddingBottom = 0; },
        ticks: { callback: v => String(v), color: '#000', padding: 3, font: { size: 11 } },
        grid: { drawOnChartArea: false, drawTicks: true, tickLength: 5, color: '#000' },
        border: { display: true, color: '#9aa3ad' } }
    }
  },
  plugins: [pluginB]
});
</script></body></html>
